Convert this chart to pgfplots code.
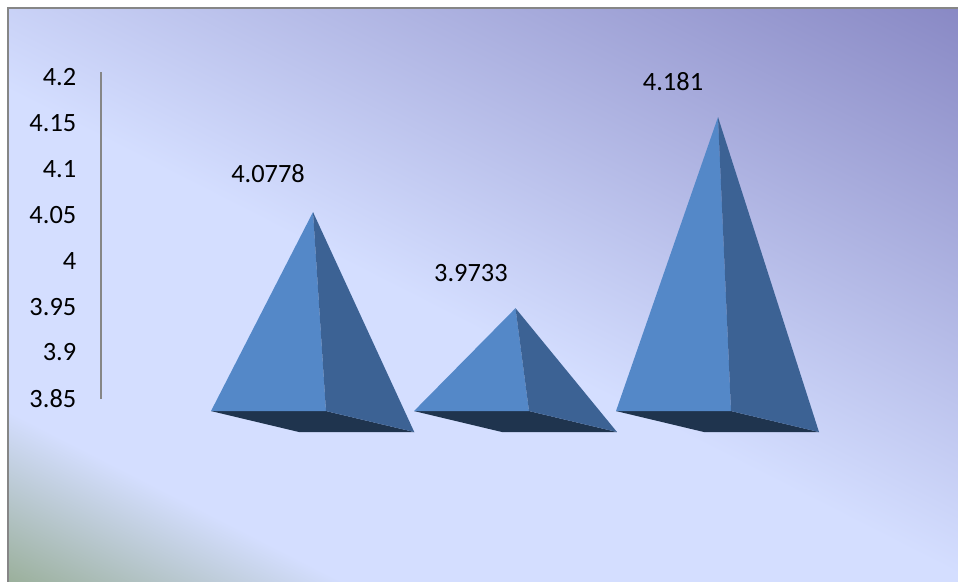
\documentclass[border=0pt]{standalone}
\usepackage{pgfplots}
\pgfplotsset{compat=1.18}
\usepackage{fontspec}
\setmainfont{Carlito}
\definecolor{faceL}{HTML}{5488C8}
\definecolor{faceR}{HTML}{3C6294}
\definecolor{faceB}{HTML}{1F344E}
\definecolor{axgray}{HTML}{868686}
\definecolor{bgG}{HTML}{9BB09C}
\definecolor{bgL}{HTML}{D4DEFF}
\definecolor{bgP}{HTML}{8888C4}
\pgfdeclareverticalshading{bgshade}{950bp}{%
  color(0bp)=(bgG); color(77bp)=(bgG); color(190bp)=(bgL); color(403bp)=(bgL);
  color(785bp)=(bgP); color(859bp)=(bgP)}
\begin{document}
\begin{tikzpicture}
\useasboundingbox (0,0) rectangle (718.5pt,436.5pt);
\fill[white] (0,0) rectangle (718.5pt,436.5pt);
\begin{scope}[x=0.75pt,y=-0.75pt,yshift=436.5pt]
  \begin{scope}
    \clip (8,8) rectangle (958,582);
    \node[inner sep=0pt,outer sep=0pt,rotate=-27] at (479,291) {\pgfuseshading{bgshade}};
  \end{scope}
  \draw[axgray,line width=1.5pt] (8,582) -- (8,8) -- (958,8);
\end{scope}
% pyramids
\begin{axis}[
  at={(0,0)},anchor=south west,
  width=718.5pt,height=436.5pt,scale only axis,
  xmin=-0.5457,xmax=4.1852,ymin=3.6757,ymax=4.3083,
  hide axis,
]
\addplot[draw=none,fill=faceB] coordinates {(0.4963,3.8615)(1.064,3.8615)(1.5,3.8387)(0.931,3.8387)} --cycle;
\addplot[draw=none,fill=faceL] coordinates {(1,4.0778)(0.4963,3.8615)(1.064,3.8615)} --cycle;
\addplot[draw=none,fill=faceR] coordinates {(1,4.0778)(1.064,3.8615)(1.5,3.8387)} --cycle;
\addplot[draw=none,fill=faceB] coordinates {(1.4988,3.8615)(2.0667,3.8615)(2.5012,3.8387)(1.9333,3.8387)} --cycle;
\addplot[draw=none,fill=faceL] coordinates {(2,3.9733)(1.4988,3.8615)(2.0667,3.8615)} --cycle;
\addplot[draw=none,fill=faceR] coordinates {(2,3.9733)(2.0667,3.8615)(2.5012,3.8387)} --cycle;
\addplot[draw=none,fill=faceB] coordinates {(2.4963,3.8615)(3.0642,3.8615)(3.4988,3.8387)(2.9309,3.8387)} --cycle;
\addplot[draw=none,fill=faceL] coordinates {(3,4.181)(2.4963,3.8615)(3.0642,3.8615)} --cycle;
\addplot[draw=none,fill=faceR] coordinates {(3,4.181)(3.0642,3.8615)(3.4988,3.8387)} --cycle;
\node[font=\fontsize{19.8}{24}\selectfont,text=black] at (axis cs:0.778,4.1191) {4.0778};
\node[font=\fontsize{19.8}{24}\selectfont,text=black] at (axis cs:1.780,4.0115) {3.9733};
\node[font=\fontsize{19.8}{24}\selectfont,text=black] at (axis cs:2.778,4.2191) {4.181};
\end{axis}
% value axis
\begin{axis}[
  at={(75.75pt,137.25pt)},anchor=south west,
  width=20pt,height=245.25pt,scale only axis,
  xmin=0,xmax=1,ymin=3.85,ymax=4.2065,
  axis x line=none,
  axis y line=left,
  axis line style={-,axgray,line width=2pt},
  ytick={3.85,3.9,3.95,4,4.05,4.1,4.15,4.2},
  major tick length=0pt,
  scaled y ticks=false,
  yticklabel style={
    /pgf/number format/fixed,
    /pgf/number format/precision=2,
    /pgf/number format/assume math mode=true,
    font=\fontsize{19.8}{24}\selectfont,
    text=black,
    xshift=-15pt,
    yshift=0.5pt,
  },
]
\addplot[draw=none] coordinates {(0,3.85)(1,4.2)};
\end{axis}
\end{tikzpicture}
\end{document}
